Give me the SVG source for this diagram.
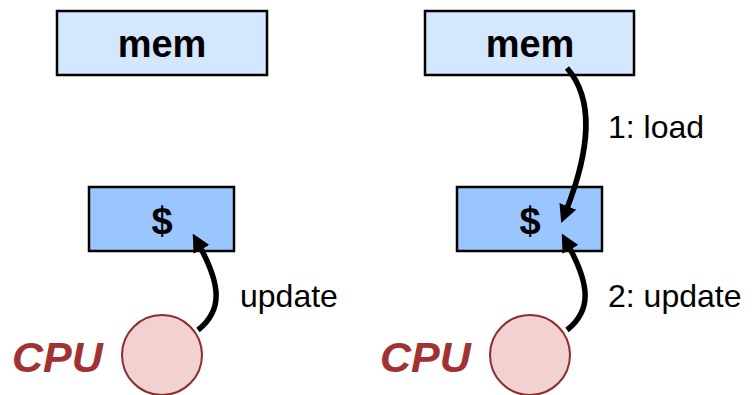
<svg xmlns="http://www.w3.org/2000/svg" width="753" height="395" viewBox="0 0 753 395">
<style>
.mem{fill:#d5e6ff;stroke:#000;stroke-width:2.5}
.cache{fill:#99c6ff;stroke:#000;stroke-width:2.5}
.cpu{fill:#f2d1d1;stroke:#8c2d2d;stroke-width:2}
.bt{font-family:"Liberation Sans",Arial,sans-serif;font-weight:bold;font-size:38px;fill:#000;text-anchor:middle}
.lbl{font-family:"Liberation Sans",Arial,sans-serif;font-size:32px;fill:#000}
.cput{font-family:"Liberation Sans",Arial,sans-serif;font-weight:bold;font-style:italic;font-size:43px;fill:#a03232}
.arr{fill:none;stroke:#000;stroke-width:5.5;marker-end:url(#ah)}
</style>
<defs>
<marker id="ah" markerUnits="userSpaceOnUse" markerWidth="18" markerHeight="18" viewBox="0 0 18 18" refX="5" refY="9" orient="auto">
<path d="M0,0 L18,9 L0,18 z" fill="#000"/>
</marker>
</defs>
<rect width="753" height="395" fill="#fff"/>
<g id="mem-left"><rect class="mem" x="57" y="11" width="210" height="64"/><text class="bt" x="162" y="57">mem</text></g>
<g id="cache-left"><rect class="cache" x="89" y="187" width="145" height="64"/><text class="bt" x="162" y="234">$</text></g>
<g id="cpu-left"><circle class="cpu" cx="162" cy="355" r="40"/><text class="cput" x="12" y="372">CPU</text></g>
<g id="mem-right"><rect class="mem" x="425" y="11" width="209" height="64"/><text class="bt" x="530" y="57">mem</text></g>
<g id="cache-right"><rect class="cache" x="457" y="187" width="145" height="64"/><text class="bt" x="530" y="234">$</text></g>
<g id="cpu-right"><circle class="cpu" cx="530" cy="355" r="40"/><text class="cput" x="380" y="372">CPU</text></g>
<g id="connectors">
<path class="arr" d="M198,330 C223,310 221,285 199,245"/>
<path class="arr" d="M567,68 C595,100 590,150 566,211"/>
<path class="arr" d="M567,330 C592,310 590,285 568,245"/>
<text class="lbl" x="240" y="307">update</text>
<text class="lbl" x="608" y="138">1: load</text>
<text class="lbl" x="608" y="307">2: update</text>
</g>
</svg>
